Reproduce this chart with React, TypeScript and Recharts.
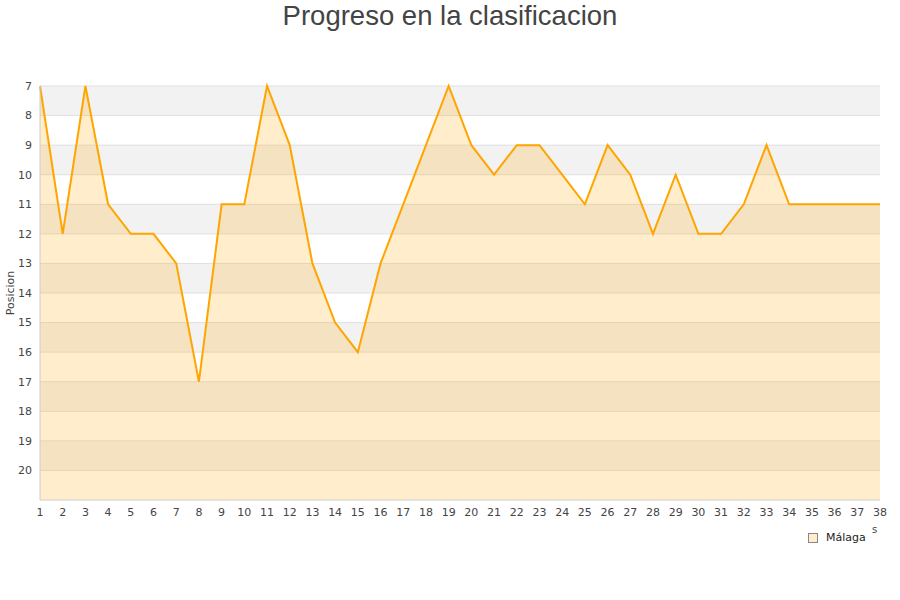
import React from 'react';
import { AreaChart, Area, XAxis, YAxis, CartesianGrid } from 'recharts';

const jornadas = [1,2,3,4,5,6,7,8,9,10,11,12,13,14,15,16,17,18,19,20,21,22,23,24,25,26,27,28,29,30,31,32,33,34,35,36,37,38];
const posiciones = [7,12,7,11,12,12,13,17,11,11,7,9,13,15,16,13,11,9,7,9,10,9,9,10,11,9,10,12,10,12,12,11,9,11,11,11,11,11];
const yTicks = [7,8,9,10,11,12,13,14,15,16,17,18,19,20];
const teamName = 'Málaga';
const title = 'Progreso en la clasificacion';

const data = jornadas.map((j, i) => ({ jornada: j, pos: posiciones[i] }));

const tickStyle = { fontFamily: 'DejaVu Sans', fontSize: 11, fill: '#444' };

export default function App() {
  return (
    <div style={{ position: 'absolute', left: 0, top: 0, width: 900, height: 600, background: '#fff' }}>
      <div style={{ position: 'absolute', left: 0, top: 0, width: 900, textAlign: 'center', fontFamily: 'Liberation Sans', fontSize: 27.5, color: '#444', lineHeight: '32px' }}>
        {title}
      </div>
      <AreaChart width={900} height={600} data={data} margin={{ top: 86, right: 20, bottom: 70, left: 0 }}>
        <CartesianGrid xAxisId="b" yAxisId="l" vertical={false} stroke="#e0e0e0" horizontalFill={['#f2f2f2', '#ffffff']} fillOpacity={1} />
        <XAxis dataKey="jornada" type="number" domain={[1, 38]} ticks={jornadas} interval={0}
          tickLine={false} axisLine={{ stroke: '#ddd' }} tick={tickStyle} height={30} xAxisId="b" />
        <XAxis type="number" domain={[1, 38]} orientation="top" xAxisId="t" tick={false} tickLine={false}
          axisLine={{ stroke: '#ddd' }} height={0} />
        <YAxis type="number" domain={[7, 21]} reversed ticks={yTicks} interval={0} tickLine={false}
          axisLine={{ stroke: '#ccc' }} tick={tickStyle} width={40} yAxisId="l"
          label={{ value: 'Posicion', angle: -90, position: 'insideLeft', offset: 10, style: { fontFamily: 'DejaVu Sans', fontSize: 11, fill: '#444', textAnchor: 'middle' } }} />
        <YAxis type="number" domain={[7, 21]} reversed orientation="right" yAxisId="r" tick={false} tickLine={false}
          axisLine={{ stroke: '#ddd' }} width={0} />
        <Area xAxisId="b" yAxisId="l" type="linear" dataKey="pos" baseValue="dataMax" stroke="#ffa500" strokeWidth={2}
          fill="#ffa500" fillOpacity={0.2} dot={false} activeDot={false} isAnimationActive={false} />
      </AreaChart>
      <div style={{ position: 'absolute', left: 808, top: 531, display: 'flex', alignItems: 'center', fontFamily: 'DejaVu Sans', fontSize: 11, color: '#222' }}>
        <span style={{ display: 'inline-block', width: 8, height: 8, background: '#ffedcc', border: '1px solid #888', marginRight: 8 }} />
        <span>{teamName}</span>
      </div>
      <div style={{ position: 'absolute', left: 872, top: 524, fontFamily: 'DejaVu Sans', fontSize: 10, color: '#444' }}>s</div>
    </div>
  );
}
